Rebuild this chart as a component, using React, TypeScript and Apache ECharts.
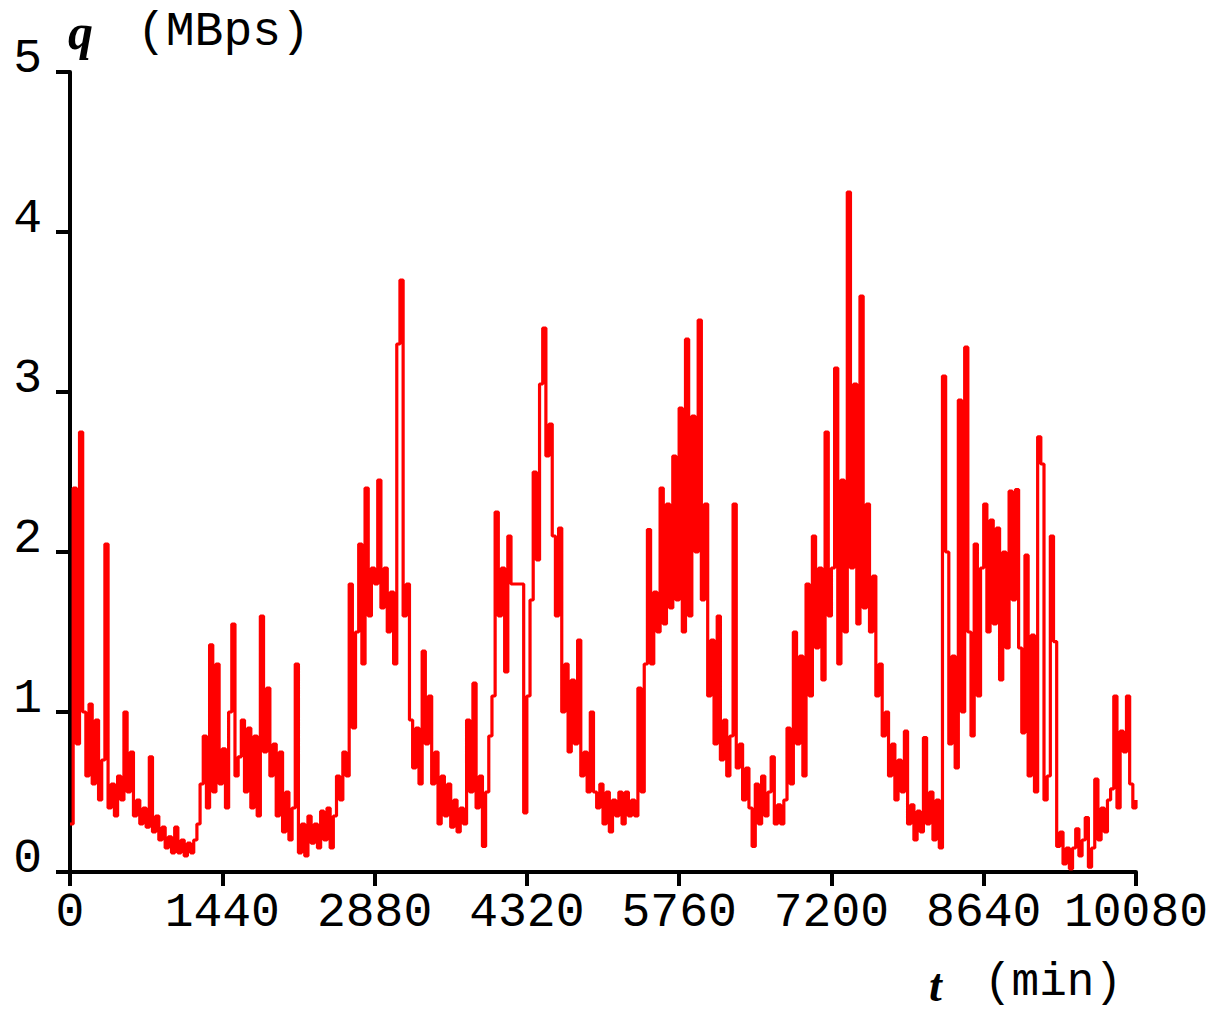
import React, { useEffect, useRef } from "react";
import * as echarts from "echarts";

// Sampling step in minutes (one value every 30 min, 48 values per day)
const STEP_MIN = 30;
const DAY_MIN = 1440;

// Traffic q (MBps), one array per day
const day1 = [0.3, 2.4, 0.8, 2.75, 1.0, 0.6, 1.05, 0.55, 0.95, 0.45, 0.7, 2.05, 0.4, 0.55, 0.35, 0.6, 0.45, 1.0, 0.5, 0.75, 0.35, 0.45, 0.3, 0.4, 0.28, 0.72, 0.25, 0.35, 0.2, 0.28, 0.15, 0.22, 0.12, 0.28, 0.12, 0.2, 0.1, 0.18, 0.12, 0.2, 0.3, 0.55, 0.85, 0.4, 1.42, 0.5, 1.3, 0.55];
const day2 = [0.77, 0.4, 1.0, 1.55, 0.6, 0.72, 0.95, 0.5, 0.9, 0.4, 0.85, 0.35, 1.6, 0.75, 1.15, 0.6, 0.8, 0.35, 0.75, 0.25, 0.5, 0.2, 0.4, 1.3, 0.12, 0.3, 0.1, 0.35, 0.18, 0.3, 0.15, 0.38, 0.2, 0.4, 0.15, 0.35, 0.6, 0.45, 0.75, 0.6, 1.8, 0.9, 1.5, 2.05, 1.3, 2.4, 1.6, 1.9];
const day3 = [1.8, 2.45, 1.65, 1.9, 1.5, 1.75, 1.3, 3.3, 3.7, 1.6, 1.8, 0.95, 0.65, 0.9, 0.55, 1.38, 0.8, 1.1, 0.55, 0.75, 0.3, 0.6, 0.35, 0.55, 0.28, 0.45, 0.25, 0.4, 0.3, 0.95, 0.5, 1.18, 0.4, 0.6, 0.16, 0.5, 0.85, 1.1, 2.25, 1.6, 1.9, 1.25, 2.1, 1.8, 1.8, 1.8, 1.8, 0.37];
const day4 = [1.1, 1.7, 2.5, 1.95, 3.05, 3.4, 2.6, 2.8, 2.1, 1.6, 2.15, 1.0, 1.3, 0.75, 1.2, 0.8, 1.45, 0.6, 0.75, 0.5, 1.0, 0.5, 0.4, 0.55, 0.3, 0.5, 0.25, 0.45, 0.35, 0.5, 0.3, 0.5, 0.35, 0.45, 0.35, 1.15, 0.5, 1.3, 2.14, 1.3, 1.75, 1.5, 2.4, 1.55, 2.3, 1.65, 2.6, 1.7];
const day5 = [2.9, 1.5, 3.33, 1.6, 2.85, 2.0, 3.45, 1.7, 2.3, 1.1, 1.45, 0.8, 1.6, 0.7, 0.95, 0.6, 0.85, 2.3, 0.65, 0.8, 0.45, 0.65, 0.4, 0.16, 0.55, 0.3, 0.6, 0.35, 0.5, 0.72, 0.3, 0.42, 0.3, 0.45, 0.9, 0.55, 1.5, 0.8, 1.35, 0.6, 1.8, 1.1, 2.1, 1.4, 1.9, 1.2, 2.75, 1.6];
const day6 = [1.9, 3.15, 1.3, 2.45, 1.5, 4.25, 1.9, 3.05, 1.55, 3.6, 1.65, 2.3, 1.5, 1.85, 1.1, 1.3, 0.85, 1.0, 0.6, 0.8, 0.45, 0.7, 0.5, 0.88, 0.3, 0.42, 0.2, 0.38, 0.25, 0.84, 0.3, 0.5, 0.2, 0.45, 0.15, 3.1, 2.0, 0.8, 1.35, 0.65, 2.95, 1.0, 3.28, 1.5, 0.85, 2.05, 1.1, 1.9];
const day7 = [2.3, 1.5, 2.2, 1.55, 2.15, 1.2, 2.0, 1.4, 2.38, 1.7, 2.39, 1.4, 0.87, 1.98, 0.6, 1.48, 0.5, 2.72, 2.55, 0.45, 0.6, 2.1, 1.44, 0.16, 0.25, 0.05, 0.15, 0.02, 0.15, 0.27, 0.1, 0.2, 0.34, 0.03, 0.15, 0.58, 0.2, 0.4, 0.25, 0.45, 0.52, 1.1, 0.4, 0.88, 0.75, 1.1, 0.55, 0.4];
const lastValue = 0.45; // value at t = 10080

const days = [day1, day2, day3, day4, day5, day6, day7];

// Axis ticks
const xTicks = [0, 1440, 2880, 4320, 5760, 7200, 8640, 10080];
const yTicks = [0, 1, 2, 3, 4, 5];

const MONO = '"Liberation Mono", "DejaVu Sans Mono", monospace';
const SERIF = '"Liberation Serif", "DejaVu Serif", serif';

export default function App() {
  const ref = useRef<HTMLDivElement>(null);

  useEffect(() => {
    document.body.style.margin = "0";
    if (!ref.current) return;
    const chart = echarts.init(ref.current, undefined, { renderer: "svg" });

    const data: [number, number][] = [];
    days.forEach((vals, d) => {
      vals.forEach((v, i) => data.push([d * DAY_MIN + i * STEP_MIN, v]));
    });
    data.push([xTicks[xTicks.length - 1], lastValue]);

    const axisLine = { show: true, lineStyle: { color: "#000", width: 4 } };
    const axisTick = { show: true, inside: false, length: 14, lineStyle: { color: "#000", width: 4 } };

    chart.setOption({
      animation: false,
      backgroundColor: "#fff",
      grid: {
        left: 70,
        right: 81,
        top: 72,
        bottom: 141,
        containLabel: false,
        outerBoundsMode: "none",
      },
      xAxis: {
        type: "value",
        min: xTicks[0],
        max: xTicks[xTicks.length - 1],
        interval: 1440,
        axisLine,
        axisTick,
        splitLine: { show: false },
        axisLabel: {
          margin: 17,
          fontFamily: MONO,
          fontSize: 48,
          color: "#000",
          showMinLabel: true,
          showMaxLabel: true,
          hideOverlap: false,
          formatter: (v: number) => String(v),
        },
      },
      yAxis: {
        type: "value",
        min: yTicks[0],
        max: yTicks[yTicks.length - 1],
        interval: 1,
        axisLine,
        axisTick,
        splitLine: { show: false },
        axisLabel: {
          margin: 28,
          fontFamily: MONO,
          fontSize: 48,
          color: "#000",
          verticalAlign: "bottom",
          lineHeight: 26,
          formatter: (v: number) => String(v),
        },
      },
      graphic: [
        {
          type: "text",
          left: 68,
          top: 7,
          style: { text: "q", font: `bold italic 50px ${SERIF}`, fill: "#000" },
        },
        {
          type: "text",
          left: 137,
          top: 8,
          style: { text: "(MBps)", font: `48px ${MONO}`, fill: "#000" },
        },
        {
          type: "text",
          left: 929,
          top: 962,
          style: { text: "t", font: `bold italic 46px ${SERIF}`, fill: "#000" },
        },
        {
          type: "text",
          left: 984,
          top: 960,
          style: { text: "(min)", font: `46px ${MONO}`, fill: "#000" },
        },
      ],
      series: [
        {
          type: "line",
          data,
          step: "end",
          showSymbol: false,
          symbol: "none",
          lineStyle: { color: "#ff0000", width: 3.2 },
          z: 1,
        },
      ],
    });

    return () => chart.dispose();
  }, []);

  return <div ref={ref} style={{ width: 1217, height: 1013 }} />;
}
